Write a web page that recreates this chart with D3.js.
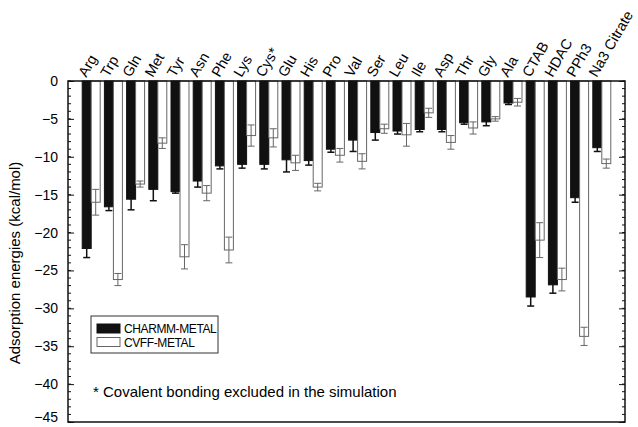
<!DOCTYPE html>
<html>
<head>
<meta charset="utf-8">
<script src="https://cdn.jsdelivr.net/npm/d3@7"></script>
<style>
  body { margin: 0; background: #fff; }
  svg text { font-family: Arial, "Liberation Sans", sans-serif; fill: #000; }
</style>
</head>
<body>
<div id="chart"></div>
<script>
// categories along the top
var categories = ['Arg', 'Trp', 'Gln', 'Met', 'Tyr', 'Asn', 'Phe', 'Lys', 'Cys*', 'Glu', 'His', 'Pro',
    'Val', 'Ser', 'Leu', 'Ile', 'Asp', 'Thr', 'Gly', 'Ala', 'CTAB', 'HDAC', 'PPh3', 'Na3 Citrate'];

// CHARMM-METAL (black bars)
var charmmValues = [-22.1, -16.6, -15.6, -14.3, -14.6, -13.2, -11.2, -11.0, -11.0, -10.4, -10.5, -9.0,
    -7.8, -6.8, -6.6, -6.4, -6.4, -5.5, -5.4, -2.9, -28.5, -26.9, -15.4, -8.8];
var charmmErrors = [1.2, 0.5, 1.4, 1.5, 0.2, 0.8, 0.4, 0.5, 0.6, 1.6, 0.6, 0.4,
    1.5, 1.0, 0.4, 0.3, 0.3, 0.2, 0.5, 0.2, 1.2, 1.1, 0.6, 0.5];

// CVFF-METAL (white bars)
var cvffValues = [-16.0, -26.2, -13.6, -8.2, -23.2, -14.8, -22.3, -7.2, -7.5, -10.8, -14.0, -9.8,
    -10.6, -6.3, -7.1, -4.2, -8.1, -6.2, -5.0, -2.8, -21.0, -26.2, -33.7, -10.9];
var cvffErrors = [1.7, 0.8, 0.4, 0.7, 1.6, 1.0, 1.7, 1.4, 1.2, 1.0, 0.5, 0.9,
    1.0, 0.6, 1.5, 0.6, 0.9, 0.8, 0.3, 0.5, 2.3, 1.5, 1.2, 0.6];

var seriesNames = ['CHARMM-METAL', 'CVFF-METAL'];
var yTicks = [0, -5, -10, -15, -20, -25, -30, -35, -40, -45];

var margin = { top: 81, right: 13, bottom: 5, left: 68 };
var width = 638 - margin.left - margin.right,
    height = 427 - margin.top - margin.bottom;

var svg = d3.select('#chart')
    .append('svg')
    .attr('width', 638)
    .attr('height', 427)
    .append('g')
    .attr('transform', 'translate(' + margin.left + ',' + margin.top + ')');

var xScale = d3.scaleBand()
    .domain(categories)
    .range([0, width])
    .paddingInner(0.19)
    .paddingOuter(0.64);

var subScale = d3.scaleBand()
    .domain(seriesNames)
    .range([0, xScale.bandwidth()]);

var yScale = d3.scaleLinear()
    .domain([0, -45])
    .range([0, height]);

var rows = categories.map(function(c, i) {
    return [
        { cat: c, series: seriesNames[0], value: charmmValues[i], err: charmmErrors[i] },
        { cat: c, series: seriesNames[1], value: cvffValues[i], err: cvffErrors[i] }
    ];
});
var flat = d3.merge(rows);

// bars
svg.selectAll('.bar')
    .data(flat)
    .enter()
    .append('rect')
    .attr('class', 'bar')
    .attr('x', function(d) { return xScale(d.cat) + subScale(d.series); })
    .attr('y', yScale(0))
    .attr('width', subScale.bandwidth())
    .attr('height', function(d) { return yScale(d.value) - yScale(0); })
    .attr('fill', function(d) { return d.series === seriesNames[0] ? '#111' : '#fff'; })
    .attr('stroke', function(d) { return d.series === seriesNames[0] ? '#111' : '#666'; })
    .attr('stroke-width', 1);

// error bars
var err = svg.selectAll('.err')
    .data(flat)
    .enter()
    .append('g')
    .attr('class', 'err')
    .attr('stroke', function(d) { return d.series === seriesNames[0] ? '#111' : '#666'; })
    .attr('stroke-width', function(d) { return d.series === seriesNames[0] ? 1.5 : 1; });

err.append('line')
    .attr('x1', function(d) { return xScale(d.cat) + subScale(d.series) + subScale.bandwidth() / 2; })
    .attr('x2', function(d) { return xScale(d.cat) + subScale(d.series) + subScale.bandwidth() / 2; })
    .attr('y1', function(d) { return yScale(d.value + d.err); })
    .attr('y2', function(d) { return yScale(d.value - d.err); });

[1, -1].forEach(function(sign) {
    err.append('line')
        .attr('x1', function(d) { return xScale(d.cat) + subScale(d.series) + subScale.bandwidth() / 2 - 3.5; })
        .attr('x2', function(d) { return xScale(d.cat) + subScale(d.series) + subScale.bandwidth() / 2 + 3.5; })
        .attr('y1', function(d) { return yScale(d.value + sign * d.err); })
        .attr('y2', function(d) { return yScale(d.value + sign * d.err); });
});

// axes: ticks pointing inwards, minor every 1 unit
var minorTicks = d3.range(0, -46, -1);

var yAxisLeft = d3.axisLeft(yScale)
    .tickValues(yTicks)
    .tickSize(-6)
    .tickPadding(12)
    .tickFormat(d3.format('d'));

var leftAxis = svg.append('g')
    .attr('class', 'y-axis axis')
    .call(yAxisLeft);
leftAxis.select('.domain').remove();
leftAxis.selectAll('text')
    .attr('font-size', 14)
    .attr('dx', 2);
// the lowest label sits on the bottom edge; lift it a bit so it stays readable
leftAxis.selectAll('.tick').filter(function(d) { return d === -45; })
    .select('text')
    .attr('dy', '-0.05em');

leftAxis.selectAll('.minor')
    .data(minorTicks)
    .enter()
    .append('line')
    .attr('class', 'minor')
    .attr('x1', 0).attr('x2', 3)
    .attr('y1', function(d) { return yScale(d); })
    .attr('y2', function(d) { return yScale(d); })
    .attr('stroke', '#111');

var rightAxis = svg.append('g')
    .attr('class', 'y-axis-right axis')
    .attr('transform', 'translate(' + width + ',0)')
    .call(d3.axisRight(yScale).tickValues(yTicks).tickSize(-6).tickFormat(''));
rightAxis.select('.domain').remove();

rightAxis.selectAll('.minor')
    .data(minorTicks)
    .enter()
    .append('line')
    .attr('class', 'minor')
    .attr('x1', 0).attr('x2', -3)
    .attr('y1', function(d) { return yScale(d); })
    .attr('y2', function(d) { return yScale(d); })
    .attr('stroke', '#111');

svg.selectAll('.axis line').attr('stroke', '#111');

// frame
svg.append('rect')
    .attr('x', 0)
    .attr('y', 0)
    .attr('width', width)
    .attr('height', height)
    .attr('fill', 'none')
    .attr('stroke', '#111')
    .attr('stroke-width', 1.5);

// category labels on top, steep diagonal
svg.selectAll('.catLabel')
    .data(categories)
    .enter()
    .append('text')
    .attr('class', 'catLabel')
    .attr('font-size', 14.5)
    .attr('x', 0)
    .attr('y', 0)
    .attr('transform', function(d) {
        var x = xScale(d) + xScale.bandwidth() / 2 - 5;
        return 'translate(' + x + ',-3) rotate(-60)';
    })
    .text(function(d) { return d; });

// y label
svg.append('text')
    .attr('transform', 'translate(' + (-margin.left + 20) + ',' + (263 - margin.top) + ') rotate(-90)')
    .attr('text-anchor', 'middle')
    .attr('font-size', 15)
    .text('Adsorption energies (kcal/mol)');

// legend
var legend = svg.append('g')
    .attr('transform', 'translate(' + (91 - margin.left) + ',' + (316 - margin.top) + ')');

legend.append('rect')
    .attr('width', 127)
    .attr('height', 37)
    .attr('fill', '#fff')
    .attr('stroke', '#333')
    .attr('stroke-width', 1);

var legendItems = legend.selectAll('.legendItem')
    .data(seriesNames)
    .enter()
    .append('g')
    .attr('class', 'legendItem')
    .attr('transform', function(d, i) { return 'translate(6,' + (8 + i * 13.5) + ')'; });

legendItems.append('rect')
    .attr('width', 23)
    .attr('height', 9)
    .attr('fill', function(d, i) { return i === 0 ? '#111' : '#fff'; })
    .attr('stroke', function(d, i) { return i === 0 ? '#111' : '#666'; });

legendItems.append('text')
    .attr('x', 27)
    .attr('y', 9)
    .attr('font-size', 12)
    .attr('letter-spacing', -0.4)
    .text(function(d) { return d; });

// footnote
svg.append('text')
    .attr('x', 93 - margin.left)
    .attr('y', 397 - margin.top)
    .attr('font-size', 15)
    .text('* Covalent bonding excluded in the simulation');
</script>
</body>
</html>
